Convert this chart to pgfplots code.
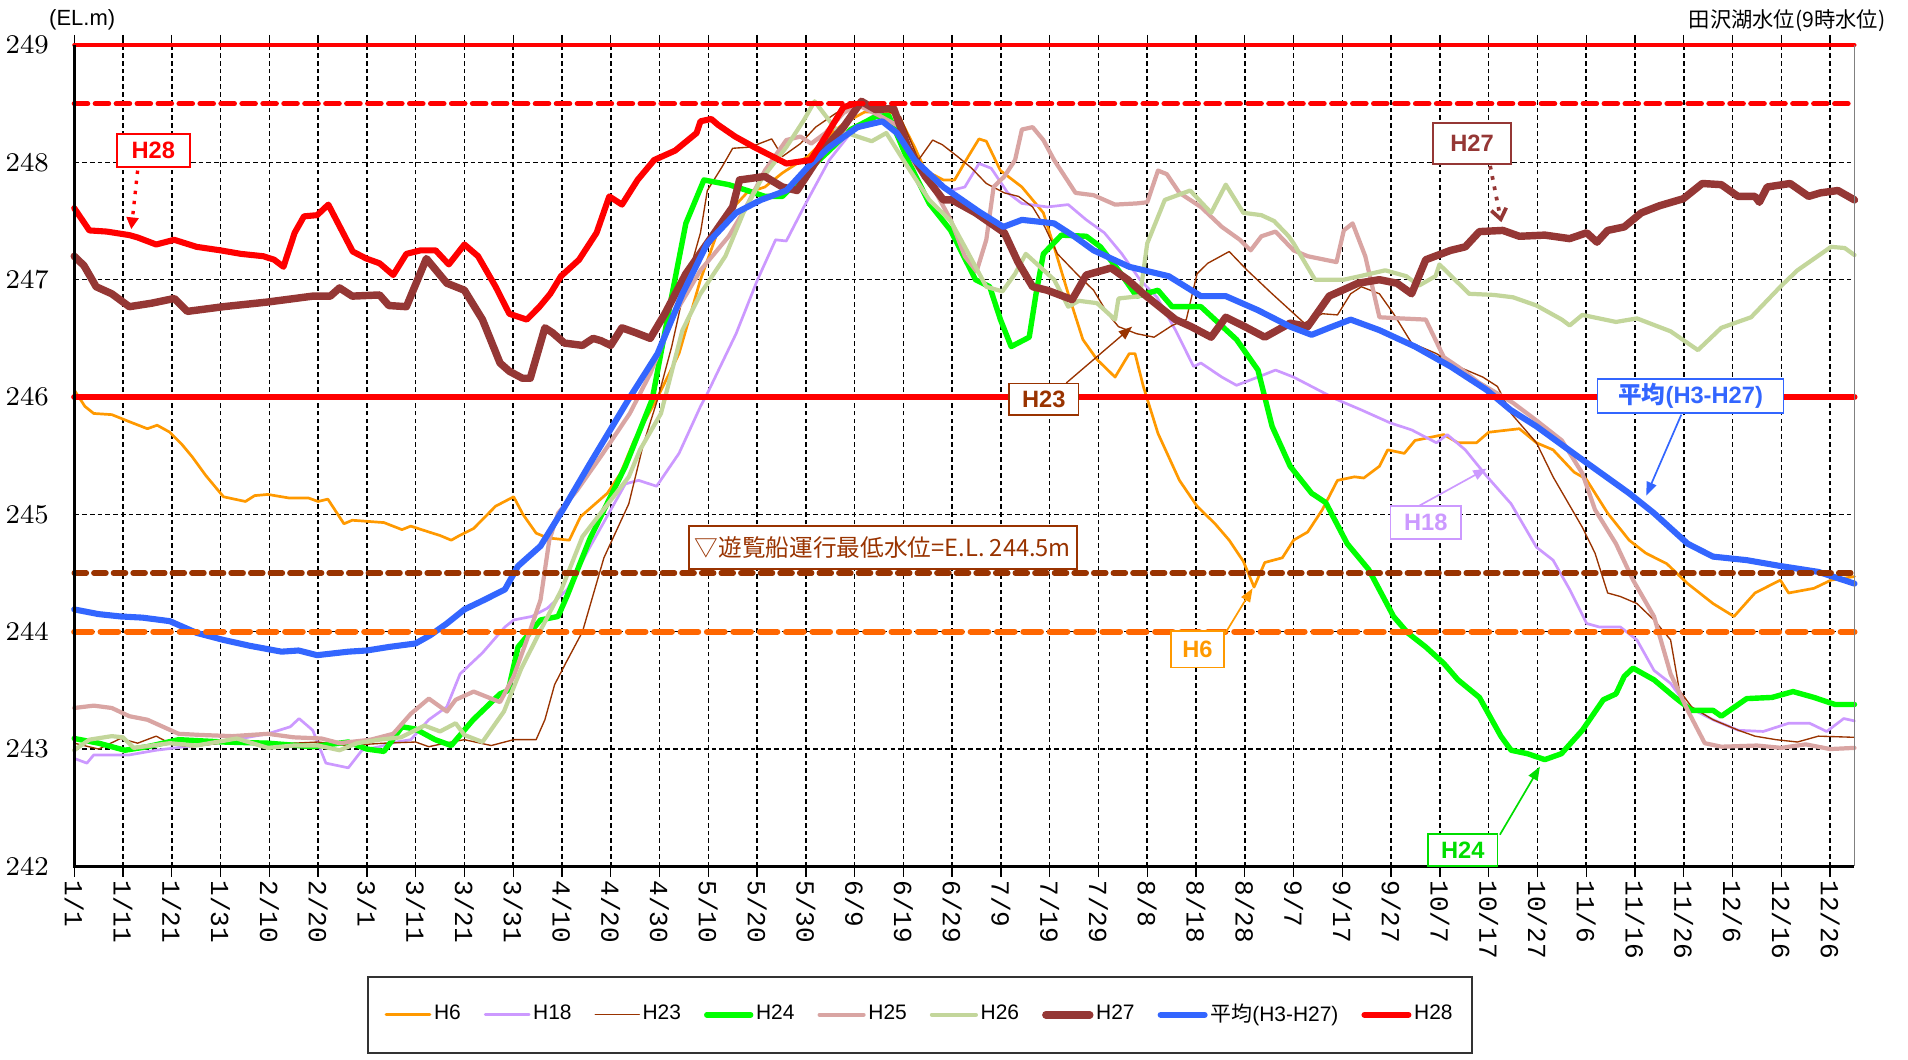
\documentclass[border=0pt]{standalone}
\usepackage{pgfplots}
\pgfplotsset{compat=1.18}
\usepackage{fontspec}
\setmainfont{Liberation Sans}
\newfontfamily\jp{Noto Sans CJK JP}
\newfontfamily\mono{Liberation Mono}
\usetikzlibrary{arrows.meta}
\definecolor{cHa}{HTML}{FF9900}
\definecolor{cHb}{HTML}{CC99FF}
\definecolor{cHc}{HTML}{993300}
\definecolor{cHd}{HTML}{00FF00}
\definecolor{cHe}{HTML}{D9A5A3}
\definecolor{cHf}{HTML}{C3D69B}
\definecolor{cHg}{HTML}{953735}
\definecolor{cAvg}{HTML}{3366FF}
\definecolor{cHh}{HTML}{FF0000}
\definecolor{cOr}{HTML}{FF6600}
\definecolor{cBr}{HTML}{993300}
\definecolor{cGt}{HTML}{00DD00}
\begin{document}
\begin{tikzpicture}
\useasboundingbox (-21.96pt,-57.24pt) rectangle (542.52pt,256.32pt);
\begin{axis}[
  at={(0pt,0pt)}, anchor=south west,
  scale only axis, width=526.68pt, height=243pt,
  xmin=0, xmax=365, ymin=242, ymax=249,
  clip=false,
  axis line style={draw=none},
  xtick={0,10,...,360},
  xticklabels={1/1,1/11,1/21,1/31,2/10,2/20,3/1,3/11,3/21,3/31,4/10,4/20,4/30,5/10,5/20,5/30,6/9,6/19,6/29,7/9,7/19,7/29,8/8,8/18,8/28,9/7,9/17,9/27,10/7,10/17,10/27,11/6,11/16,11/26,12/6,12/16,12/26},
  ytick={242,243,...,249},
  tick align=outside,
  major tick length=3pt,
  xtick style={black, line width=0.4pt},
  ytick style={draw=none},
  xticklabel style={rotate=-90, anchor=west, font=\mono\fontsize{7.7}{8}\selectfont, inner sep=1pt},
  yticklabel style={font=\fontsize{7.7}{8}\selectfont, xshift=-1pt},
  xmajorgrids, ymajorgrids,
  major grid style={black, line width=0.45pt, dash pattern=on 1.4pt off 0.9pt},
  legend columns=9,
  legend style={at={(0.4751,-0.1807)}, anchor=center, draw=black!80, line width=0.6pt,
    font=\fontsize{6.2}{7}\selectfont, inner xsep=5pt, inner ysep=7pt,
    nodes={inner sep=0.8pt},
    /tikz/every even column/.append style={column sep=6pt}},
  legend image code/.code={\draw[#1] (0pt,0pt) -- (13pt,0pt);},
  every axis plot/.append style={line join=round, line cap=round},
  no markers,
]
% H6
\addplot[cHa, line width=0.8pt] coordinates {
(0,246.06) (2.2,245.92) (4,245.86) (7.7,245.85) (11.3,245.79) (15,245.73) (17,245.76) (19.6,245.7) (22,245.6) (24.2,245.49) (27,245.33) (30.6,245.15) (35.1,245.11) (37,245.16) (39.7,245.17) (44,245.14) (48,245.14) (50,245.11) (52,245.13) (55.3,244.92) (57,244.95) (63.5,244.93) (67.2,244.87) (69,244.9) (72.7,244.85) (75,244.82) (77.3,244.78) (79,244.82) (81.9,244.88) (86.4,245.07) (90.1,245.15) (92,245.0) (94.7,244.84) (97,244.8) (101.5,244.78) (103.8,244.98) (109.3,245.18) (112,245.35) (114.8,245.63) (119.4,245.98) (124,246.37) (128.4,247.0) (132.8,247.51) (137.9,247.74) (141.6,247.79) (145.2,247.91) (150.4,248.05) (154,248.2) (157.7,248.33) (162.1,248.43) (168.7,248.42) (172.3,248.13) (174.5,247.93) (178.2,247.85) (180.5,247.85) (183.3,248.05) (185.5,248.2) (187,248.18) (189.9,247.93) (194.3,247.79) (198.7,247.57) (200.9,247.28) (203.8,246.88) (206.8,246.49) (209.7,246.32) (213.4,246.17) (216.3,246.37) (217.5,246.37) (219.2,246.09) (222.2,245.69) (226.6,245.29) (230.2,245.07) (233.9,244.92) (236.8,244.78) (239.7,244.6) (241.9,244.38) (244.1,244.59) (247.7,244.63) (250,244.78) (252.9,244.85) (255.9,245.04) (259,245.29) (262.5,245.32) (264.4,245.31) (267.6,245.41) (269.3,245.55) (272.7,245.52) (274.9,245.63) (280.8,245.68) (283.7,245.61) (287.5,245.61) (290,245.7) (296.3,245.73) (299.8,245.61) (303.2,245.55) (307.5,245.36) (310,245.3) (314.4,245.01) (318.8,244.78) (322.2,244.67) (326.5,244.58) (330.8,244.41) (336,244.24) (340.3,244.13) (344.6,244.33) (349.8,244.44) (351.5,244.33) (356.7,244.37) (360.2,244.44) (365,244.47)
};
\addlegendentry{H6}
% H18
\addplot[cHb, line width=0.8pt] coordinates {
(0,242.92) (2.6,242.88) (4,242.95) (11.3,242.95) (16.8,242.99) (28.7,243.05) (39.7,243.13) (44.3,243.19) (46.1,243.26) (48.9,243.16) (51.6,242.88) (56.2,242.84) (59,242.99) (62.6,243.02) (66,243.06) (69,243.08) (72.7,243.25) (76.4,243.36) (79.1,243.64) (83.7,243.82) (88.3,244.04) (90.1,244.1) (93.8,244.13) (97,244.2) (101.1,244.36) (105.7,244.72) (113,245.26) (115.7,245.29) (119.4,245.24) (124,245.52) (128.4,245.92) (129.8,246.03) (135.7,246.54) (140.1,247.0) (143.8,247.34) (146,247.33) (149.6,247.62) (154.8,248.02) (159.2,248.25) (163.5,248.39) (165.7,248.42) (168,248.3) (171,248.05) (174.5,247.85) (179.7,247.76) (182.6,247.79) (185.5,247.99) (188,247.95) (191.4,247.74) (194.3,247.65) (199.5,247.62) (203.8,247.64) (207.5,247.51) (211.2,247.4) (214.8,247.22) (218.5,247.0) (222,246.85) (225.8,246.57) (229.5,246.26) (231,246.29) (235.3,246.17) (238.3,246.1) (242.7,246.17) (246.3,246.23) (250,246.17) (253.7,246.09) (258.8,245.98) (263.9,245.89) (269.8,245.78) (274.2,245.72) (279.3,245.61) (281.5,245.68) (285.2,245.55) (289.5,245.33) (294.6,245.09) (299.8,244.72) (303.2,244.61) (306.6,244.36) (310.1,244.07) (312.7,244.04) (317,244.04) (320.4,243.93) (323.9,243.67) (327.3,243.56) (330.8,243.36) (336,243.25) (341.2,243.16) (346.3,243.15) (351.5,243.22) (355.8,243.22) (359.3,243.15) (362.8,243.26) (365,243.24)
};
\addlegendentry{H18}
% H23
\addplot[cHc, line width=0.4pt] coordinates {
(0,243.05) (5,243.0) (9.5,243.09) (13,243.05) (16.8,243.11) (20,243.04) (24.2,243.02) (30,243.05) (40,243.04) (50,243.06) (56,243.03) (63.5,243.05) (70,243.06) (72.7,243.02) (76,243.05) (80,243.08) (85.5,243.03) (90.1,243.08) (94.7,243.08) (96.5,243.25) (98.5,243.55) (101,243.75) (104.2,244.0) (108.6,244.63) (113.7,245.09) (116.7,245.6) (119.6,245.98) (122.5,246.43) (125,246.9) (128.4,247.4) (129.8,247.76) (132.8,247.96) (135,248.12) (138.6,248.13) (143,248.2) (145.2,248.05) (148.9,248.16) (152,248.3) (156.2,248.42) (159.2,248.47) (162.8,248.5) (166,248.45) (169.4,248.39) (173.1,248.02) (176,248.19) (178,248.15) (181.1,248.05) (184,247.95) (187,247.82) (190.7,247.74) (193.6,247.71) (196.5,247.62) (199,247.45) (201.6,247.22) (206,247.03) (209,246.91) (211.9,246.71) (214.1,246.6) (217.8,246.54) (221.4,246.51) (225.1,246.61) (228,246.66) (230.2,247.05) (232.4,247.14) (236.8,247.24) (240.5,247.08) (245.6,246.88) (252.2,246.63) (255.9,246.71) (259,246.7) (261.7,246.88) (263.9,246.94) (267.6,246.88) (270.5,246.71) (274.2,246.46) (279.3,246.37) (283.7,246.26) (288.8,246.17) (291.8,246.09) (294.6,245.86) (299.8,245.61) (303.2,245.32) (309.2,244.89) (311.8,244.67) (314.4,244.33) (317,244.3) (320.4,244.24) (323.9,244.1) (327.3,243.93) (329.1,243.5) (331.6,243.36) (336,243.25) (341.2,243.16) (344.6,243.11) (348.9,243.08) (353.3,243.06) (357.6,243.11) (365,243.1)
};
\addlegendentry{H23}
% H24
\addplot[cHd, line width=1.6pt] coordinates {
(0,243.09) (5,243.05) (10.4,242.99) (15,243.02) (21.4,243.08) (30.6,243.06) (39.7,243.05) (48.9,243.02) (56.2,243.06) (60,243.0) (63.5,242.98) (67.2,243.19) (70,243.17) (74,243.08) (77.3,243.03) (81.8,243.25) (87.3,243.47) (89,243.5) (91,243.87) (95.6,244.1) (99.2,244.13) (101,244.3) (105.7,244.79) (113,245.41) (118.5,245.98) (122.5,246.86) (125.4,247.48) (129.1,247.85) (134.2,247.81) (138,247.76) (141.6,247.71) (145.2,247.71) (150.4,247.93) (154.8,248.1) (159.2,248.28) (164.3,248.39) (167,248.4) (170.9,248.02) (175.3,247.65) (179.7,247.42) (184.8,247.0) (187.7,246.94) (189.9,246.66) (192.1,246.43) (195.8,246.51) (197.2,246.88) (198.7,247.22) (202.4,247.38) (207.5,247.37) (210.4,247.28) (214.1,247.08) (217.8,246.86) (222.2,246.91) (225.1,246.77) (231,246.77) (238.3,246.49) (242.7,246.23) (245.6,245.75) (249.3,245.41) (253.7,245.18) (256.6,245.1) (261,244.75) (265.4,244.53) (270.5,244.13) (273.4,243.99) (277.1,243.87) (280.8,243.73) (283.7,243.59) (288.1,243.44) (292.5,243.11) (294.6,242.99) (298,242.96) (301.5,242.91) (304.9,242.96) (309.2,243.16) (313.5,243.42) (316.1,243.47) (317.8,243.62) (319.6,243.69) (323.9,243.59) (328.2,243.44) (331.6,243.33) (336,243.33) (337.7,243.28) (342.9,243.43) (348.1,243.44) (352.4,243.49) (356.7,243.44) (361,243.38) (365,243.38)
};
\addlegendentry{H24}
% H25
\addplot[cHe, line width=1.25pt] coordinates {
(0,243.35) (4,243.37) (7.7,243.35) (11.3,243.28) (15,243.25) (21.4,243.13) (26,243.12) (32.4,243.11) (39.7,243.13) (45,243.1) (50.7,243.09) (54.4,243.05) (60.8,243.08) (65.4,243.13) (69,243.3) (72.7,243.43) (76.4,243.32) (78.2,243.42) (81.9,243.49) (87.3,243.4) (90.1,243.62) (92.8,243.93) (95.6,244.27) (97.4,244.78) (99.2,245.01) (103,245.2) (108.4,245.52) (113.9,245.86) (118.1,246.2) (123,246.7) (128.4,247.08) (134.2,247.37) (137.5,247.6) (141.6,247.93) (146,248.19) (148.9,248.22) (151.1,248.16) (154,248.25) (157.7,248.42) (160.6,248.49) (165,248.4) (169.4,248.3) (172.3,247.99) (176.7,247.74) (179.7,247.51) (182.6,247.2) (185,247.07) (187,247.34) (188.5,247.79) (190.7,247.88) (192.9,248.02) (194.3,248.28) (196.5,248.3) (198.7,248.19) (200.9,248.02) (205.3,247.74) (209,247.72) (213.4,247.64) (217.8,247.65) (220,247.66) (222.2,247.93) (224,247.9) (226.6,247.74) (231,247.62) (235.3,247.45) (239,247.34) (241.2,247.25) (243.4,247.37) (246.3,247.41) (250,247.25) (252.9,247.2) (258.8,247.15) (260.3,247.42) (262.1,247.48) (264.7,247.2) (267.6,246.68) (272,246.67) (277.1,246.66) (280.8,246.34) (284,246.25) (288.1,246.12) (291.8,246.03) (295,245.95) (299.8,245.8) (305,245.63) (309.2,245.35) (311.8,245.04) (316.1,244.75) (319.6,244.44) (323.9,244.13) (327.3,243.64) (330.8,243.33) (334.3,243.05) (337.7,243.02) (345,243.03) (350,243.01) (355,243.04) (360,243.0) (365,243.01)
};
\addlegendentry{H25}
% H26
\addplot[cHf, line width=1.25pt] coordinates {
(0,242.99) (3.1,243.08) (7.7,243.11) (10,243.1) (12.2,243.01) (19.6,243.05) (25,243.03) (33.3,243.09) (39.7,243.01) (45,243.03) (50,243.03) (54.4,242.99) (58,243.05) (62.6,243.08) (67,243.1) (71.8,243.2) (75,243.15) (78.2,243.22) (80,243.12) (83.7,243.06) (88.1,243.32) (91.7,243.69) (96.2,244.06) (99.8,244.35) (104.2,244.81) (110,245.12) (113.7,245.32) (116,245.55) (120.3,245.86) (124.7,246.57) (128.4,246.88) (133.5,247.2) (137.2,247.57) (140.8,247.85) (146,248.13) (149.6,248.36) (151.8,248.52) (156.2,248.28) (160.6,248.22) (163.5,248.18) (166.5,248.25) (170.9,247.96) (175.3,247.68) (179.7,247.5) (182.6,247.28) (187,246.94) (190.3,246.9) (192.9,247.05) (195.1,247.22) (200.9,247.0) (203.8,246.77) (206,246.82) (209.7,246.8) (213.4,246.66) (214.1,246.84) (218.5,246.86) (220,247.31) (223.6,247.68) (228.8,247.76) (233.1,247.57) (236.1,247.81) (239.7,247.57) (243.4,247.55) (246,247.5) (249,247.37) (250,247.31) (254.4,247.0) (260.3,247.0) (263.6,247.03) (268.8,247.08) (273.1,247.03) (275.7,246.95) (279.1,247.03) (279.9,247.13) (286,246.88) (291.1,246.87) (295,246.85) (299.8,246.78) (305,246.66) (306.6,246.61) (309.2,246.7) (316.1,246.64) (320.4,246.67) (327.3,246.56) (332.9,246.4) (337.7,246.59) (343.8,246.68) (349.8,246.94) (353.3,247.08) (360.2,247.28) (363,247.27) (365,247.21)
};
\addlegendentry{H26}
% H27
\addplot[cHg, line width=2.2pt] coordinates {
(0,247.2) (2,247.12) (4.5,246.94) (7.7,246.88) (11.3,246.77) (15.9,246.8) (20.5,246.84) (23.2,246.73) (30.6,246.77) (39.7,246.81) (48.9,246.86) (52.5,246.86) (54.4,246.93) (57,246.86) (62.6,246.87) (64.5,246.78) (68.1,246.77) (72.2,247.18) (76.4,246.97) (80,246.91) (83.7,246.66) (87.3,246.29) (89.2,246.22) (91.9,246.16) (93.5,246.16) (96.5,246.59) (98,246.55) (100.5,246.46) (104.2,246.44) (106.4,246.5) (108,246.48) (110,246.44) (112.3,246.59) (115,246.55) (118.1,246.5) (121.1,246.71) (125.4,247.05) (131.3,247.4) (135,247.62) (136.4,247.85) (141.6,247.88) (145.2,247.79) (148.2,247.76) (154,248.13) (157.7,248.3) (161.4,248.52) (164.3,248.45) (168,248.46) (170.9,248.13) (174.5,247.88) (178.2,247.68) (180,247.68) (184.8,247.57) (190.7,247.4) (193.5,247.15) (196.5,246.94) (199.5,246.91) (204.6,246.83) (207.5,247.04) (212.6,247.1) (216,247.0) (219.2,246.88) (225.8,246.66) (229,246.6) (233.1,246.51) (236.1,246.68) (240,246.6) (244.1,246.51) (249.3,246.63) (252.9,246.6) (257.3,246.86) (263.2,246.97) (267.6,247.0) (271.2,246.97) (274.2,246.88) (277.1,247.17) (282.2,247.25) (285.2,247.28) (288.1,247.41) (292.9,247.42) (296.3,247.37) (301.5,247.38) (306.6,247.35) (310.1,247.4) (312.2,247.32) (314.4,247.42) (317.8,247.45) (321.3,247.57) (325,247.63) (329.9,247.69) (333.8,247.82) (337.7,247.81) (341.1,247.71) (344.6,247.71) (345.5,247.66) (347.1,247.79) (351.8,247.82) (355.6,247.71) (358,247.74) (361.6,247.76) (365,247.68)
};
\addlegendentry{H27}
% average
\addplot[cAvg, line width=1.8pt] coordinates {
(0,244.19) (5,244.15) (9.5,244.13) (14,244.12) (19.6,244.09) (25.1,243.99) (30.6,243.93) (36,243.88) (42.5,243.83) (46,243.84) (49.8,243.8) (56.2,243.83) (60,243.84) (64.5,243.87) (70,243.9) (73,243.97) (76.4,244.07) (80,244.19) (84,244.27) (88.3,244.36) (91,244.56) (95.6,244.73) (100.2,245.04) (105.7,245.43) (113.8,245.99) (119.6,246.37) (124.7,246.88) (129.8,247.31) (135.7,247.57) (140.8,247.68) (146,247.76) (150.4,247.96) (154.8,248.13) (160.6,248.3) (165.7,248.35) (168.7,248.25) (172.3,248.02) (178.2,247.79) (185.5,247.58) (190.5,247.45) (194.3,247.51) (200.9,247.48) (205,247.37) (209,247.25) (216.3,247.11) (224.4,247.03) (231,246.86) (236.1,246.86) (242.7,246.74) (249.3,246.6) (253.7,246.53) (257.3,246.59) (261.7,246.66) (267.6,246.57) (274.9,246.43) (282.2,246.26) (289.6,246.06) (294.5,245.89) (299.8,245.75) (308.4,245.49) (318.8,245.18) (323.9,245.01) (330.8,244.75) (336,244.64) (342.9,244.61) (349.8,244.56) (357.6,244.51) (365,244.41)
};
\addlegendentry{\jp 平均\rmfamily(H3-H27)}
% H28
\addplot[cHh, line width=1.8pt] coordinates {
(0,247.61) (3.1,247.42) (6.7,247.41) (11.3,247.38) (13,247.36) (16.8,247.3) (20.5,247.34) (25.1,247.28) (30,247.25) (34.2,247.22) (38.8,247.2) (41,247.17) (42.9,247.11) (45.2,247.4) (47.1,247.54) (49.8,247.55) (52.1,247.64) (57.1,247.24) (59.9,247.18) (62.6,247.14) (65.4,247.04) (68.1,247.22) (71,247.25) (74.1,247.25) (76.8,247.13) (80,247.3) (82.8,247.2) (86.4,246.94) (89.2,246.71) (92.8,246.66) (95.4,246.77) (97.6,246.88) (99.8,247.03) (103.5,247.17) (107.1,247.4) (109.7,247.71) (112.3,247.64) (115.5,247.85) (118.9,248.02) (123.2,248.1) (127.6,248.25) (128.4,248.35) (130.6,248.37) (132,248.32) (135.5,248.22) (139.4,248.13) (146,247.99) (151,248.02) (154.5,248.25) (157.7,248.47) (160,248.5)
};
\addlegendentry{H28}
% reference lines
\addplot[forget plot, cHh, line width=1.2pt] coordinates {(0,249) (365,249)};
\addplot[forget plot, cHh, line width=1.5pt, dash pattern=on 4pt off 2.2pt] coordinates {(0,248.5) (365,248.5)};
\addplot[forget plot, cHh, line width=1.8pt] coordinates {(0,246) (365,246)};
\addplot[forget plot, cBr, line width=1.6pt, dash pattern=on 3.6pt off 2.2pt] coordinates {(0,244.5) (365,244.5)};
\addplot[forget plot, cOr, line width=1.8pt, dash pattern=on 5.2pt off 2.6pt] coordinates {(0,244) (365,244)};
% axis lines
\draw[black, line width=0.9pt] (rel axis cs:0,1) -- (rel axis cs:0,0) -- (rel axis cs:1,0);
\draw[gray, line width=0.4pt] (rel axis cs:1,0) -- (rel axis cs:1,1);
% annotation arrows
\draw[cHh, line width=1pt, dotted, -{Triangle[length=3.5pt,width=3.5pt]}] (axis cs:13,247.93) -- (axis cs:11.7,247.43);
\draw[cHg, line width=1.1pt, dotted, -{Straight Barb[length=3pt,width=4.5pt]}] (axis cs:290.3,247.97) -- (axis cs:292.6,247.49);
\draw[cHc, line width=0.4pt, -{Triangle[length=4pt,width=3pt]}] (axis cs:203.4,246.12) -- (axis cs:216.9,246.6);
\draw[cAvg, line width=0.5pt, -{Triangle[length=4pt,width=3pt]}] (axis cs:329.5,245.85) -- (axis cs:322.3,245.16);
\draw[cHb, line width=0.5pt, -{Triangle[length=4pt,width=3pt]}] (axis cs:275.6,245.07) -- (axis cs:289.6,245.39);
\draw[cHa, line width=0.5pt, -{Triangle[length=4pt,width=3pt]}] (axis cs:235.9,243.98) -- (axis cs:241.6,244.37);
\draw[cGt, line width=0.5pt, -{Triangle[length=4pt,width=3pt]}] (axis cs:292.3,242.27) -- (axis cs:300.5,242.85);
% annotation boxes
\tikzset{abox/.style={draw, fill=white, inner sep=0pt, line width=0.5pt, font=\bfseries\fontsize{7}{8}\selectfont}}
\node[abox, draw=cHh, text=cHh, minimum width=21.6pt, minimum height=9.7pt] at (axis cs:16.2,248.10) {H28};
\node[abox, draw=cHg, text=cHg, minimum width=23pt, minimum height=12.2pt] at (axis cs:286.6,248.16) {H27};
\node[abox, draw=cHc, text=cHc, minimum width=20.5pt, minimum height=9.4pt] at (axis cs:198.8,245.98) {H23};
\node[abox, draw=cAvg, text=cAvg, minimum width=55pt, minimum height=10pt] at (axis cs:331.4,246.01) {{\jp\bfseries 平均}(H3-H27)};
\node[abox, draw=cHb, text=cHb, minimum width=20.9pt, minimum height=9.7pt] at (axis cs:277.1,244.93) {H18};
\node[abox, draw=cHa, text=cHa, minimum width=15.5pt, minimum height=10.8pt] at (axis cs:230.3,243.85) {H6};
\node[abox, draw=cGt, text=cGt, minimum width=20.5pt, minimum height=9.4pt] at (axis cs:284.7,242.14) {H24};
\node[draw=cBr, fill=white, text=cBr, inner sep=0pt, line width=0.6pt, minimum width=115pt, minimum height=12.6pt, font=\jp\fontsize{7}{8}\selectfont] at (axis cs:165.8,244.72) {▽遊覧船運行最低水位=E.L. 244.5m};
\end{axis}
\node[anchor=west, inner sep=0pt, font=\fontsize{6.5}{7}\selectfont] at (-7.6pt,250.6pt) {(EL.m)};
\node[anchor=east, inner sep=0pt, font=\jp\fontsize{6.3}{7}\selectfont] at (536pt,250.2pt) {田沢湖水位(9時水位)};
\end{tikzpicture}
\end{document}
